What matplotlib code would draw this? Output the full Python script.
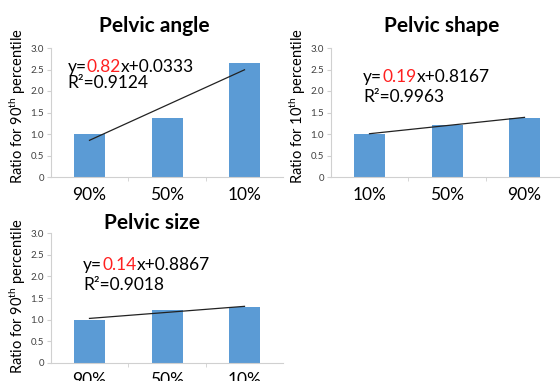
import matplotlib.pyplot as plt
import numpy as np

plt.rcParams['font.family'] = ['Lato', 'DejaVu Sans']
plt.rcParams['mathtext.fontset'] = 'custom'
plt.rcParams['mathtext.rm'] = 'Lato'
plt.rcParams['mathtext.it'] = 'Lato:italic'

# data
titles = ["Pelvic angle", "Pelvic shape", "Pelvic size"]
ylabels = [r"Ratio for 90$^{\mathrm{th}}$ percentile",
           r"Ratio for 10$^{\mathrm{th}}$ percentile",
           r"Ratio for 90$^{\mathrm{th}}$ percentile"]
cats_angle = ["90%", "50%", "10%"]
cats_shape = ["10%", "50%", "90%"]
cats_size = ["90%", "50%", "10%"]
vals_angle = [1.00, 1.38, 2.64]
vals_shape = [1.00, 1.21, 1.38]
vals_size = [1.00, 1.22, 1.28]
slopes = [0.82, 0.19, 0.14]
intercepts = [0.0333, 0.8167, 0.8867]
slope_txt = ["0.82", "0.19", "0.14"]
icpt_txt = ["0.0333", "0.8167", "0.8867"]
r2_txt = ["0.9124", "0.9963", "0.9018"]

BLUE = '#5b9bd5'
GRID = '#d0d0d0'

W, H = 560, 381
fig = plt.figure(figsize=(5.6, 3.81), dpi=100)


def px_axes(l, r, b, t):
    # pixel box (top-left origin) -> figure fraction axes
    return fig.add_axes([l / W, 1 - b / H, (r - l) / W, (b - t) / H])


axes = [px_axes(50.75, 283.25, 177, 48),
        px_axes(330.75, 563.25, 177, 48),
        px_axes(50.75, 283.25, 362.7, 233.3)]
cats = [cats_angle, cats_shape, cats_size]
vals = [vals_angle, vals_shape, vals_size]
eq_pos = [(-0.28, 2.55, 2.19), (-0.08, 2.33, 1.86), (-0.08, 2.27, 1.80)]
title_px = [(154, 26), (442, 26), (152, 223)]
ylab_px = [(18, 106), (298, 106), (18, 296)]

for i, ax in enumerate(axes):
    x = np.arange(3)
    ax.bar(x, vals[i], width=0.4, color=BLUE, zorder=2)
    ax.plot(x, slopes[i] * (x + 1) + intercepts[i], color='#222222', lw=0.9, zorder=3)
    ax.set_xlim(-0.5, 2.5)
    ax.set_ylim(0, 3.0)
    ax.set_yticks(np.arange(0, 3.01, 0.5))
    ax.set_yticklabels(["0"] + [f"{v:.1f}" for v in np.arange(0.5, 3.01, 0.5)])
    ax.set_xticks(x)
    ax.set_xticklabels(cats[i], fontsize=12.5)
    ax.set_xticks([0.5, 1.5], minor=True)
    ax.tick_params(axis='x', which='major', length=0, pad=7)
    ax.tick_params(axis='x', which='minor', length=3, color=GRID)
    ax.tick_params(axis='y', labelsize=7, labelcolor='#404040', length=3, color=GRID, pad=2)
    for s in ['top', 'right']:
        ax.spines[s].set_visible(False)
    for s in ['left', 'bottom']:
        ax.spines[s].set_color(GRID)
        ax.spines[s].set_linewidth(0.8)

    ex, ey, ey2 = eq_pos[i]
    t1 = ax.text(ex, ey, "y=", fontsize=12.5, va='center', ha='left')
    t2 = ax.annotate(slope_txt[i], xy=(1, 0), xycoords=t1, va='bottom', ha='left',
                     fontsize=12.5, color='#ff2020')
    ax.annotate("x+" + icpt_txt[i], xy=(1, 0), xycoords=t2, va='bottom', ha='left',
                fontsize=12.5)
    ax.text(ex, ey2, "R²=" + r2_txt[i], fontsize=12.5, va='center', ha='left')

    tx, ty = title_px[i]
    fig.text(tx / W, 1 - ty / H, titles[i], fontsize=15, fontweight='bold',
             ha='center', va='center')
    lx, ly = ylab_px[i]
    fig.text(lx / W, 1 - ly / H, ylabels[i], fontsize=10.5, rotation=90,
             ha='center', va='center')

fig.savefig('out.png', dpi=100)
